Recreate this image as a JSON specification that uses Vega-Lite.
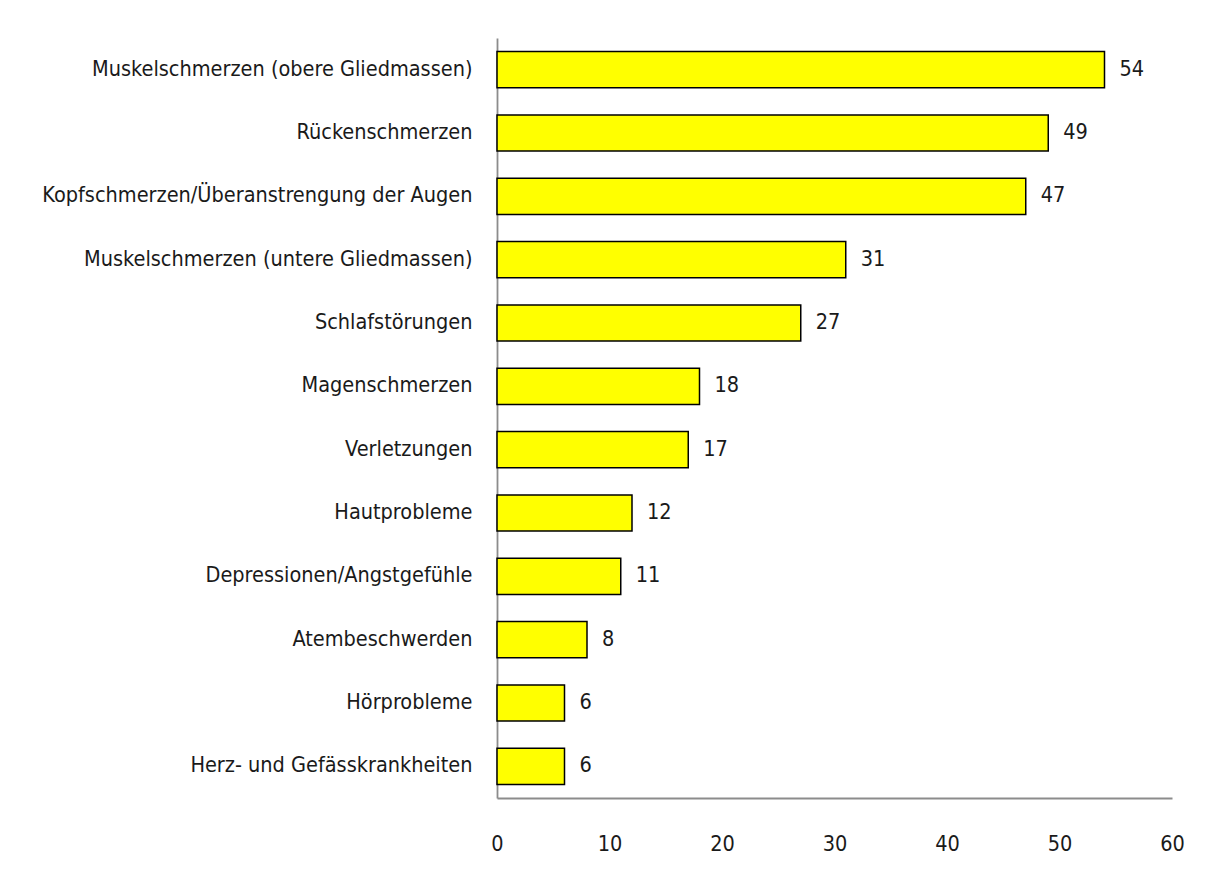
{
  "$schema": "https://vega.github.io/schema/vega-lite/v6.json",
  "autosize": {"type": "none"},
  "padding": {"left": 497, "top": 38, "right": 36, "bottom": 80},
  "width": 675,
  "height": 760,
  "background": "white",
  "config": {
    "view": {"stroke": null},
    "font": "DejaVu Sans Condensed"
  },
  "data": {
    "values": [
      {"kategorie": "Muskelschmerzen (obere Gliedmassen)", "wert": 54},
      {"kategorie": "Rückenschmerzen", "wert": 49},
      {"kategorie": "Kopfschmerzen/Überanstrengung der Augen", "wert": 47},
      {"kategorie": "Muskelschmerzen (untere Gliedmassen)", "wert": 31},
      {"kategorie": "Schlafstörungen", "wert": 27},
      {"kategorie": "Magenschmerzen", "wert": 18},
      {"kategorie": "Verletzungen", "wert": 17},
      {"kategorie": "Hautprobleme", "wert": 12},
      {"kategorie": "Depressionen/Angstgefühle", "wert": 11},
      {"kategorie": "Atembeschwerden", "wert": 8},
      {"kategorie": "Hörprobleme", "wert": 6},
      {"kategorie": "Herz- und Gefässkrankheiten", "wert": 6}
    ]
  },
  "encoding": {
    "y": {
      "field": "kategorie",
      "type": "nominal",
      "sort": null,
      "scale": {"paddingInner": 0.43, "paddingOuter": 0.215},
      "axis": {
        "title": null,
        "ticks": false,
        "labelPadding": 25,
        "labelFontSize": 21.5,
        "labelColor": "#1a1a1a",
        "labelFont": "DejaVu Sans Condensed",
        "labelLimit": 500,
        "domainColor": "#8c8c8c",
        "domainWidth": 1.8
      }
    },
    "x": {
      "field": "wert",
      "type": "quantitative",
      "scale": {"domain": [0, 60], "nice": false},
      "axis": {
        "title": null,
        "values": [0, 10, 20, 30, 40, 50, 60],
        "ticks": false,
        "grid": false,
        "labelPadding": 35,
        "labelFontSize": 21.5,
        "labelColor": "#1a1a1a",
        "labelFont": "DejaVu Sans Condensed",
        "labelFlush": false,
        "domainColor": "#8c8c8c",
        "domainWidth": 1.8
      }
    }
  },
  "layer": [
    {
      "mark": {"type": "bar", "fill": "#ffff00", "stroke": "#000000", "strokeWidth": 1.5}
    },
    {
      "mark": {"type": "text", "align": "left", "baseline": "middle", "dx": 15, "fontSize": 21.5, "color": "#1a1a1a", "font": "DejaVu Sans Condensed"},
      "encoding": {"text": {"field": "wert", "type": "quantitative"}}
    }
  ]
}
